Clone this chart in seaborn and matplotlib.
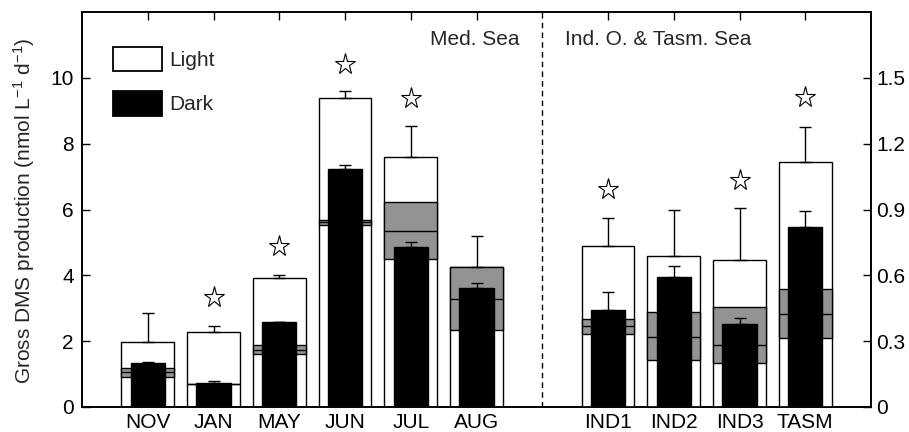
import numpy as np
import pandas as pd
import matplotlib
matplotlib.use("Agg")
import matplotlib.pyplot as plt
from matplotlib.patches import Patch
import seaborn as sns

# ---------------- data ----------------
months = ["NOV", "JAN", "MAY", "JUN", "JUL", "AUG"]
light_med = [1.96, 2.27, 3.91, 9.40, 7.60, 4.24]
light_med_sd = [0.90, 0.18, 0.10, 0.19, 0.93, 0.95]
dark_med = [1.33, 0.74, 2.57, 7.23, 4.86, 3.61]
dark_med_sd = [0.03, 0.06, 0.02, 0.12, 0.14, 0.17]
band_lo_med = [0.92, 0.69, 1.60, 5.54, 4.51, 2.34]
band_mid_med = [1.06, 0.70, 1.74, 5.61, 5.36, 3.29]
band_hi_med = [1.17, 0.71, 1.88, 5.68, 6.23, 4.24]
star_med = [np.nan, 3.33, 4.89, 10.43, 9.38, np.nan]

sites = ["IND1", "IND2", "IND3", "TASM"]
light_ind = [0.733, 0.687, 0.671, 1.117]
light_ind_sd = [0.127, 0.211, 0.235, 0.161]
dark_ind = [0.443, 0.593, 0.380, 0.820]
dark_ind_sd = [0.082, 0.048, 0.025, 0.074]
band_lo_ind = [0.334, 0.212, 0.202, 0.315]
band_mid_ind = [0.367, 0.317, 0.283, 0.423]
band_hi_ind = [0.401, 0.431, 0.455, 0.539]
star_ind = [0.993, np.nan, 1.036, 1.413]

left_ticks = [0, 2, 4, 6, 8, 10]
right_ticks = [0, 0.3, 0.6, 0.9, 1.2, 1.5]
right_ticklabels = ["0", "0.3", "0.6", "0.9", "1.2", "1.5"]

# ---------------- style ----------------
sns.set_style("ticks")
plt.rcParams["font.family"] = ["Liberation Sans", "DejaVu Sans"]
plt.rcParams["mathtext.fontset"] = "custom"
plt.rcParams["mathtext.rm"] = "Liberation Sans"
plt.rcParams["mathtext.it"] = "Liberation Sans:italic"
plt.rcParams["mathtext.default"] = "regular"

FS = 15
GRAY = "#939393"
LIGHT_W = 0.8
DARK_W = 0.52

pos_med = [1, 2, 3, 4, 5, 6]
pos_ind = [8, 9, 10, 11]

fig = plt.figure(figsize=(9.09, 4.32), dpi=100)
ax = fig.add_axes([82 / 909, 25 / 432, 789 / 909, 395 / 432])
ax2 = ax.twinx()


def draw_group(a, pos, light, light_sd, dark, dark_sd, lo, mid, hi, stars):
    df_l = pd.DataFrame({"x": pos, "y": light})
    df_d = pd.DataFrame({"x": pos, "y": dark})
    sns.barplot(data=df_l, x="x", y="y", native_scale=True, orient="x",
                width=LIGHT_W, color="white", edgecolor="black", linewidth=1.0,
                saturation=1, errorbar=None, ax=a, zorder=1)
    lo = np.asarray(lo)
    hi = np.asarray(hi)
    a.bar(pos, hi - lo, bottom=lo, width=LIGHT_W, color=GRAY,
          edgecolor="black", linewidth=1.0, zorder=2)
    a.hlines(mid, np.asarray(pos) - LIGHT_W / 2, np.asarray(pos) + LIGHT_W / 2,
             colors="black", linewidth=1.0, zorder=2.5)
    a.errorbar(pos, light, yerr=[np.zeros(len(pos)), light_sd], fmt="none",
               ecolor="black", elinewidth=1.0, capsize=4.3, capthick=1.0, zorder=4)
    sns.barplot(data=df_d, x="x", y="y", native_scale=True, orient="x",
                width=DARK_W, color="black", edgecolor="black", linewidth=1.0,
                saturation=1, errorbar=None, ax=a, zorder=3)
    a.errorbar(pos, dark, yerr=[np.zeros(len(pos)), dark_sd], fmt="none",
               ecolor="black", elinewidth=1.0, capsize=4.3, capthick=1.0, zorder=4)
    a.plot(pos, stars, ls="none", marker="*", ms=15.5, mfc="white",
           mec="black", mew=0.8, zorder=5)


draw_group(ax, pos_med, light_med, light_med_sd, dark_med, dark_med_sd,
           band_lo_med, band_mid_med, band_hi_med, star_med)
draw_group(ax2, pos_ind, light_ind, light_ind_sd, dark_ind, dark_ind_sd,
           band_lo_ind, band_mid_ind, band_hi_ind, star_ind)

ax.axvline(7, color="black", linestyle=(0, (4, 3)), linewidth=1.0, zorder=1)

ax.set_xlim(0, 12)
ax.set_ylim(0, 12)
ax2.set_ylim(0, 1.8)

ax.set_xticks(pos_med + pos_ind)
ax.set_xticklabels(months + sites, fontsize=FS)
ax.set_yticks(left_ticks)
ax.set_yticklabels([str(t) for t in left_ticks], fontsize=FS)
ax2.set_yticks(right_ticks)
ax2.set_yticklabels(right_ticklabels, fontsize=FS)

ax.tick_params(axis="x", direction="in", top=True, bottom=True, length=6,
               width=1.0, pad=4, colors="black")
ax.tick_params(axis="y", direction="in", left=True, right=False, length=6,
               width=1.0, pad=6, colors="black")
ax2.tick_params(axis="y", direction="in", right=True, left=False, length=6,
                width=1.0, pad=4, colors="black")

for a in (ax, ax2):
    for s in a.spines.values():
        s.set_visible(True)
        s.set_linewidth(1.2)
        s.set_color("black")

ax.set_xlabel("")
ax2.set_xlabel("")
ax2.set_ylabel("")
ax.set_ylabel("Gross DMS production (nmol L$^{-1}$ d$^{-1}$)", fontsize=FS)
ax.yaxis.set_label_coords(-0.057, 0.496)

ax.text(6.65, 11.0, "Med. Sea", ha="right", va="baseline", fontsize=FS)
ax.text(7.35, 11.0, "Ind. O. & Tasm. Sea", ha="left", va="baseline", fontsize=FS)

handles = [Patch(facecolor="white", edgecolor="black", linewidth=1.3),
           Patch(facecolor="black", edgecolor="black", linewidth=1.3)]
ax.legend(handles, ["Light", "Dark"], loc="upper left",
          bbox_to_anchor=(31 / 789, 1 - 35 / 395), frameon=False,
          borderpad=0, borderaxespad=0, handlelength=2.35, handleheight=1.43,
          handletextpad=0.35, labelspacing=0.95, fontsize=FS)

fig.savefig("out.png", dpi=100)
